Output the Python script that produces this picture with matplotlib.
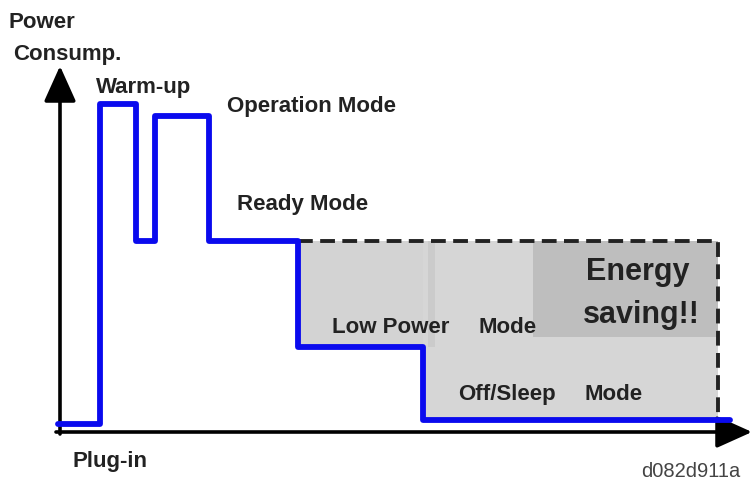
import matplotlib
matplotlib.use("Agg")
import matplotlib.pyplot as plt
from matplotlib.patches import Rectangle

plt.rcParams['font.family'] = ['Liberation Sans', 'DejaVu Sans']

# Step profile of power consumption (time units, power units; screen-like scale)
step_x = [58, 100, 100, 136, 136, 155, 155, 209, 209, 298, 298, 423, 423, 730]
step_y = [424, 424, 104, 104, 241, 241, 116, 116, 241, 241, 347, 347, 420, 420]

ready_level = 241
low_level = 347
off_level = 420
low_start = 298
off_start = 423
save_end = 718
energy_box_x = 533
energy_box_bottom = 337

labels = [
    ("Power", 8, 28),
    ("Consump.", 13, 60),
    ("Warm-up", 96, 93),
    ("Operation Mode", 227, 112),
    ("Ready Mode", 237, 210),
    ("Low Power", 332, 333),
    ("Mode", 479, 333),
    ("Off/Sleep", 458, 400),
    ("Mode", 585, 400),
    ("Plug-in", 72, 467),
]

fig = plt.figure(figsize=(7.52, 4.92), dpi=100)
ax = fig.add_axes([0, 0, 1, 1])
ax.set_xlim(0, 752)
ax.set_ylim(492, 0)
ax.axis('off')

# shaded saving regions
ax.add_patch(Rectangle((low_start, ready_level), off_start - low_start, low_level - ready_level,
                       facecolor='#d3d3d3', edgecolor='none', zorder=1))
ax.add_patch(Rectangle((off_start, ready_level), save_end - off_start, off_level - ready_level,
                       facecolor='#d6d6d6', edgecolor='none', zorder=1))
ax.add_patch(Rectangle((428, ready_level), 7, low_level - ready_level,
                       facecolor='#cbcbcb', edgecolor='none', zorder=1))
ax.add_patch(Rectangle((energy_box_x, ready_level), save_end - energy_box_x, energy_box_bottom - ready_level,
                       facecolor='#bebebe', edgecolor='none', zorder=1))

# dashed outline
ax.plot([low_start, save_end, save_end], [ready_level, ready_level, off_level],
        color='#222222', lw=2.8, dashes=(3.8, 1.9), zorder=2)

# axes arrows
ax.annotate('', xy=(60, 66), xytext=(60, 434),
            arrowprops=dict(arrowstyle='-|>,head_length=1.0,head_width=0.45', lw=2.6,
                            color='black', shrinkA=0, shrinkB=0, mutation_scale=22), zorder=3)
ax.annotate('', xy=(752, 432), xytext=(56, 432),
            arrowprops=dict(arrowstyle='-|>,head_length=1.0,head_width=0.45', lw=2.6,
                            color='black', shrinkA=0, shrinkB=0, mutation_scale=22), zorder=3)

# power step line
ax.plot(step_x, step_y, color='#0a0aee', lw=4.2, solid_joinstyle='round',
        solid_capstyle='round', zorder=4)

bold = dict(fontweight='bold', color='#222222', fontsize=16, va='baseline', ha='left', zorder=5)
for lab, x, y in labels:
    ax.text(x, y, lab, **bold)
ax.text(638, 280, "Energy", fontsize=22, fontweight='bold', color='#222222', ha='center', va='baseline', zorder=5)
ax.text(641, 323, "saving!!", fontsize=22, fontweight='bold', color='#222222', ha='center', va='baseline', zorder=5)
ax.text(740, 477, "d082d911a", fontsize=14.5, color='#444444', ha='right', va='baseline', zorder=5)

fig.savefig("out.png", dpi=100)
